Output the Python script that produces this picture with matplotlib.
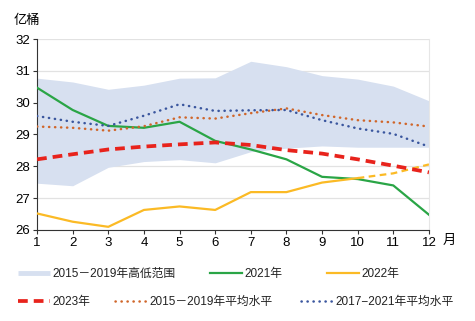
import matplotlib
matplotlib.use("Agg")
import matplotlib.pyplot as plt
from matplotlib.lines import Line2D

plt.rcParams['font.family'] = ['Liberation Sans', 'Noto Sans CJK SC', 'DejaVu Sans']

months = list(range(1, 13))
month_labels = [str(m) for m in months]

band_high = [30.77, 30.65, 30.42, 30.55, 30.77, 30.78, 31.30, 31.13, 30.85, 30.74, 30.52, 30.06]
band_low = [27.47, 27.39, 27.97, 28.15, 28.21, 28.11, 28.46, 28.57, 28.64, 28.60, 28.60, 28.60]
y2021 = [30.47, 29.77, 29.27, 29.21, 29.40, 28.80, 28.53, 28.22, 27.67, 27.60, 27.40, 26.48]
y2022 = [26.52, 26.26, 26.10, 26.63, 26.74, 26.63, 27.19, 27.19, 27.49, 27.63, 27.78, 28.06]
y2023 = [28.22, 28.38, 28.53, 28.62, 28.69, 28.75, 28.67, 28.51, 28.40, 28.22, 28.02, 27.81]
avg_2015_2019 = [29.25, 29.21, 29.12, 29.26, 29.54, 29.50, 29.67, 29.82, 29.61, 29.45, 29.38, 29.25]
avg_2017_2021 = [29.58, 29.40, 29.27, 29.59, 29.95, 29.74, 29.76, 29.77, 29.45, 29.19, 29.02, 28.62]
y2022_actual_end = 10  # last month of actual data; forecast afterwards

labels = ['2015－2019年高低范围', '2021年', '2022年',
          '2023年', '2015－2019年平均水平', '2017−2021年平均水平']

c_band = '#d7e0f0'
c_green = '#2aa546'
c_yellow = '#fbba25'
c_red = '#e8231c'
c_orange = '#d0662a'
c_blue = '#3a569e'

fig = plt.figure(figsize=(4.75, 3.21), dpi=100)
ax = fig.add_axes([0.078, 0.2835, 0.825, 0.595])

ax.fill_between(months, band_low, band_high, color=c_band, lw=0, zorder=1)
ax.plot(months, y2021, color=c_green, lw=1.6, zorder=3)
k = y2022_actual_end
ax.plot(months[:k], y2022[:k], color=c_yellow, lw=1.6, zorder=3)
ax.plot(months[k - 1:], y2022[k - 1:], color=c_yellow, lw=1.6, ls=(0, (3, 2)), zorder=3)
ax.plot(months, avg_2015_2019, color=c_orange, lw=1.8, ls=(0, (0.1, 2.3)),
        dash_capstyle='round', zorder=4)
ax.plot(months, avg_2017_2021, color=c_blue, lw=1.8, ls=(0, (0.1, 2.3)),
        dash_capstyle='round', zorder=4)
ax.plot(months, y2023, color=c_red, lw=2.7, ls=(0, (2.6, 1.6)), zorder=5)

ax.set_xlim(1, 12)
ax.set_ylim(26, 32)
ax.set_xticks(months)
ax.set_xticklabels(month_labels)
ax.set_yticks(range(26, 33))
ax.tick_params(axis='both', labelsize=9.5, length=3, width=0.8, color='#333333', pad=2)
ax.yaxis.grid(True, color='#e2e2e2', lw=0.9, zorder=0)
ax.set_axisbelow(True)
ax.spines['top'].set_visible(False)
ax.spines['right'].set_color('#e6e6e6')
ax.spines['right'].set_linewidth(0.8)
ax.spines['left'].set_color('#333333')
ax.spines['bottom'].set_color('#333333')

fig.text(0.028, 0.935, '亿桶', fontsize=9.5, ha='left', va='center')
fig.text(0.932, 0.25, '月', fontsize=9.5, ha='left', va='center')

handles = [
    Line2D([], [], color=c_band, lw=3.5, solid_capstyle='butt'),
    Line2D([], [], color=c_green, lw=1.6),
    Line2D([], [], color=c_yellow, lw=1.6),
    Line2D([], [], color=c_red, lw=2.7, ls=(0, (2.6, 1.6))),
    Line2D([], [], color=c_orange, lw=1.8, ls=(0, (0.1, 2.3)), dash_capstyle='round'),
    Line2D([], [], color=c_blue, lw=1.8, ls=(0, (0.1, 2.3)), dash_capstyle='round'),
]
# legend entry anchors (left edge of handle, vertical centre) in figure pixels
anchors = [(18, 274), (210, 274), (327, 274), (18, 302), (115, 302), (301, 302)]
W, H = 475, 321
for h, lab, (px, py) in zip(handles, labels, anchors):
    leg = fig.legend([h], [lab], loc='center left',
                     bbox_to_anchor=(px / W, 1 - py / H),
                     frameon=False, fontsize=8.5, handlelength=2.7,
                     handletextpad=0.2, borderpad=0, borderaxespad=0)
    for t in leg.get_texts():
        t.set_color('#222222')

fig.savefig('out.png', dpi=100)
